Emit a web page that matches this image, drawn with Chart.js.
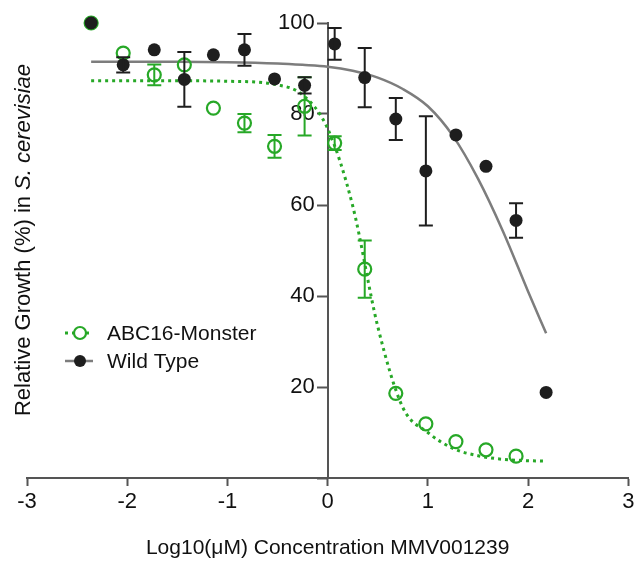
<!DOCTYPE html>
<html>
<head>
<meta charset="utf-8">
<script src="https://cdn.jsdelivr.net/npm/chart.js@4.4.1/dist/chart.umd.min.js"></script>
<style>
  html, body { margin: 0; padding: 0; background: #fff; overflow: hidden; }
  #wrap { position: relative; width: 637px; height: 563px; }
</style>
</head>
<body>
<div id="wrap"><canvas id="growthChart"></canvas></div>
<script>
// log10 concentration of each dilution (uM)
const concLog = [-2.36, -2.04, -1.73, -1.43, -1.14, -0.83, -0.53, -0.23, 0.07, 0.37, 0.68, 0.98, 1.28, 1.58, 1.88, 2.18];

// measured relative growth (%) with error bars
const wtGrowth = [100, 90.8, 94.1, 87.6, 93.0, 94.1, 87.7, 86.3, 95.4, 88.0, 78.9, 67.5, 75.4, 68.5, 56.6, 18.8];
const wtErr = [0, 1.7, 0, 6.0, 0, 3.5, 0, 1.8, 3.5, 6.5, 4.6, 12.0, 0, 0, 3.8, 0];
const abcGrowth = [100, 93.4, 88.6, 90.8, 81.3, 78.0, 72.9, 81.7, 73.6, 45.9, 18.6, 11.9, 8.0, 6.2, 4.8];
const abcErr = [0, 0, 2.3, 0, 0, 2.0, 2.5, 6.4, 1.5, 6.3, 0, 0, 0, 0, 0];

// dose-response fit curves, sampled along x
const fitX = [-2.36, -1.5, -1.0, -0.5, -0.25, 0, 0.25, 0.5, 0.75, 1.0, 1.25, 1.5, 1.75, 2.0, 2.18];
const abcFit = [87.3, 87.3, 87.2, 86.4, 84.2, 76.8, 59.8, 33.3, 15.5, 10.0, 6.5, 4.9, 4.1, 3.8, 3.7];
const wtFit = [91.5, 91.5, 91.4, 91.1, 90.8, 90.4, 89.5, 88.0, 85.5, 81.7, 75.2, 65.8, 54.2, 41.0, 31.8];

const xTicks = [-3, -2, -1, 0, 1, 2, 3];
const yTicks = [20, 40, 60, 80, 100];

const GREEN = '#27a827';
const BLACK = '#1e1e1e';
const GREY = '#7d7d7d';
const AXIS = '#555555';
const FONT = '"Liberation Sans", Arial, Helvetica, sans-serif';

const pts = (xs, ys) => ys.map((y, i) => ({ x: xs[i], y }));

// the y axis sits at x = 0; push its labels left of the tick marks
const yLabelShift = {
    id: 'yLabelShift',
    beforeDraw(chart) {
        chart.scales.y.getLabelItems().forEach(it => {
            if (it._moved) return;
            it.options.translation[0] -= 13;
            it._moved = true;
        });
    }
};

// vertical error bars with caps, drawn right after their dataset
const errorBars = {
    id: 'errorBars',
    afterDatasetDraw(chart, args) {
        const ds = chart.data.datasets[args.index];
        if (!ds.errors) return;
        const { ctx, scales: { x, y } } = chart;
        ctx.save();
        ctx.strokeStyle = ds.borderColor;
        ctx.lineWidth = 2;
        ds.data.forEach((p, i) => {
            const e = ds.errors[i];
            if (!e) return;
            const px = x.getPixelForValue(p.x);
            const top = y.getPixelForValue(p.y + e);
            const bot = y.getPixelForValue(p.y - e);
            ctx.beginPath();
            ctx.moveTo(px, top); ctx.lineTo(px, bot);
            ctx.moveTo(px - 7, top); ctx.lineTo(px + 7, top);
            ctx.moveTo(px - 7, bot); ctx.lineTo(px + 7, bot);
            ctx.stroke();
        });
        ctx.restore();
    }
};

// rotated y title, species name in italics
const yTitle = {
    id: 'yTitle',
    afterDraw(chart) {
        const ctx = chart.ctx;
        const plain = 'Relative Growth (%) in ';
        const ital = 'S. cerevisiae';
        const fPlain = '22px ' + FONT;
        const fItal = 'italic 22px ' + FONT;
        ctx.save();
        ctx.font = fPlain;
        const w1 = ctx.measureText(plain).width;
        ctx.font = fItal;
        const w2 = ctx.measureText(ital).width;
        ctx.translate(24, 240);
        ctx.rotate(-Math.PI / 2);
        ctx.fillStyle = '#111';
        ctx.textBaseline = 'middle';
        ctx.textAlign = 'left';
        const x0 = -(w1 + w2) / 2;
        ctx.font = fPlain;
        ctx.fillText(plain, x0, 0);
        ctx.font = fItal;
        ctx.fillText(ital, x0 + w1, 0);
        ctx.restore();
    }
};

// legend: line sample with marker, then series name
const lineLegend = {
    id: 'lineLegend',
    afterDraw(chart) {
        const ctx = chart.ctx;
        const items = [
            { ds: chart.data.datasets[2], fit: chart.data.datasets[0], y: 333 },
            { ds: chart.data.datasets[3], fit: chart.data.datasets[1], y: 361 }
        ];
        ctx.save();
        items.forEach(it => {
            ctx.beginPath();
            ctx.setLineDash(it.fit.borderDash || []);
            ctx.strokeStyle = it.fit.borderColor;
            ctx.lineWidth = it.fit.borderWidth;
            ctx.moveTo(65, it.y); ctx.lineTo(93, it.y);
            ctx.stroke();
            ctx.setLineDash([]);
            ctx.beginPath();
            ctx.arc(80, it.y, it.ds.pointRadius - 0.5, 0, Math.PI * 2);
            if (it.ds.pointBackgroundColor === 'transparent') {
                ctx.fillStyle = '#fff';
                ctx.fill();
                ctx.strokeStyle = it.ds.pointBorderColor;
                ctx.lineWidth = it.ds.pointBorderWidth;
                ctx.stroke();
            } else {
                ctx.fillStyle = it.ds.pointBackgroundColor;
                ctx.fill();
            }
            ctx.fillStyle = '#111';
            ctx.font = '21px ' + FONT;
            ctx.textBaseline = 'middle';
            ctx.fillText(it.ds.label, 107, it.y + 1);
        });
        ctx.restore();
    }
};

const ctx = document.getElementById('growthChart').getContext('2d');
new Chart(ctx, {
    type: 'scatter',
    data: {
        datasets: [
            {
                label: 'ABC16-Monster fit',
                data: pts(fitX, abcFit),
                showLine: true,
                borderColor: GREEN,
                borderWidth: 3,
                borderDash: [3, 4],
                pointRadius: 0,
                cubicInterpolationMode: 'monotone',
                clip: false,
                order: 4
            },
            {
                label: 'Wild Type fit',
                data: pts(fitX, wtFit),
                showLine: true,
                borderColor: GREY,
                borderWidth: 2.5,
                pointRadius: 0,
                cubicInterpolationMode: 'monotone',
                clip: false,
                order: 3
            },
            {
                label: 'ABC16-Monster',
                data: pts(concLog, abcGrowth),
                errors: abcErr,
                borderColor: GREEN,
                pointBackgroundColor: 'transparent',
                pointBorderColor: GREEN,
                pointBorderWidth: 2.2,
                pointRadius: 6.5,
                clip: false,
                order: 2
            },
            {
                label: 'Wild Type',
                data: pts(concLog, wtGrowth),
                errors: wtErr,
                borderColor: BLACK,
                pointBackgroundColor: BLACK,
                pointBorderColor: BLACK,
                pointBorderWidth: 0,
                pointRadius: 6.5,
                clip: false,
                order: 1
            }
        ]
    },
    options: {
        responsive: true,
        maintainAspectRatio: false,
        animation: false,
        devicePixelRatio: 1,
        layout: { padding: { left: 27, right: 3, top: 23, bottom: 0 } },
        plugins: {
            legend: { display: false },
            tooltip: { enabled: false }
        },
        scales: {
            x: {
                type: 'linear',
                min: -3,
                max: 3,
                afterBuildTicks: s => { s.ticks = xTicks.map(v => ({ value: v })); },
                afterFit: s => { s.height = 85; s.paddingLeft = 0; s.paddingRight = 0; },
                ticks: { color: '#111', padding: 3, font: { size: 22, family: FONT } },
                grid: { drawOnChartArea: false, tickLength: 8, tickWidth: 2, tickColor: AXIS },
                border: { color: AXIS, width: 2 },
                title: {
                    display: true,
                    text: 'Log10(μM) Concentration MMV001239',
                    color: '#111',
                    font: { size: 21, family: FONT },
                    padding: { top: 0, bottom: 2 }
                }
            },
            y: {
                type: 'linear',
                position: { x: 0 },
                min: 0,
                max: 100,
                afterBuildTicks: s => { s.ticks = [0].concat(yTicks).map(v => ({ value: v })); },
                afterFit: s => { s.paddingTop = 0; s.paddingBottom = 0; },
                ticks: {
                    color: '#111',
                    padding: 3,
                    font: { size: 22, family: FONT },
                    callback: v => (v === 0 ? '' : v)
                },
                grid: { drawOnChartArea: false, tickLength: 10, tickWidth: 2, tickColor: AXIS },
                border: { color: AXIS, width: 2 }
            }
        }
    },
    plugins: [yLabelShift, errorBars, yTitle, lineLegend]
});
</script>
</body>
</html>
